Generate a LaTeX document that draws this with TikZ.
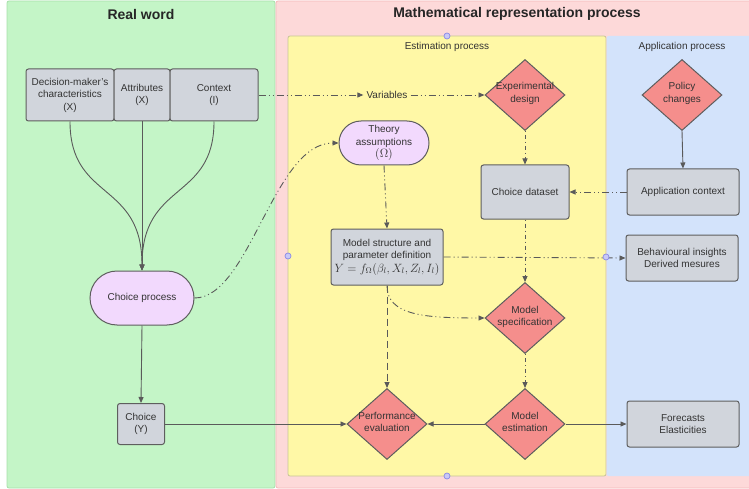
\documentclass[tikz,border=0pt]{standalone}
\usepackage{fontspec}
\setmainfont{Liberation Sans}
\usepackage{amsmath}
\usetikzlibrary{calc}
\usetikzlibrary{positioning}
\usetikzlibrary{shapes.geometric}
\usetikzlibrary{arrows.meta}
\definecolor{worldgreen}{HTML}{C4F5C7}
\definecolor{worldedge}{HTML}{A6DFA9}
\definecolor{mathpink}{HTML}{FDD9D9}
\definecolor{mathedge}{HTML}{F4B9B9}
\definecolor{estyellow}{HTML}{FFF8A6}
\definecolor{estedge}{HTML}{C8C39A}
\definecolor{appblue}{HTML}{D3E3FB}
\definecolor{boxgrey}{HTML}{D1D5DC}
\definecolor{boxline}{HTML}{5E5E5E}
\definecolor{decred}{HTML}{F58E8C}
\definecolor{lilac}{HTML}{F2D9FD}
\definecolor{linegrey}{HTML}{5A5A5A}
\definecolor{txt}{HTML}{333333}
\definecolor{handlefill}{HTML}{C9C9F7}
\definecolor{handleline}{HTML}{8A8AE6}
\tikzstyle{panel} = [rounded corners=2pt, line width=0.8pt]
\tikzstyle{greybox} = [draw=boxline, fill=boxgrey, rectangle, rounded corners=2.5pt, line width=1pt, align=center, text=txt, font=\fontsize{10}{12.5}\selectfont]
\tikzstyle{roundbox} = [draw=boxline, fill=lilac, rectangle, line width=1pt, align=center, text=txt, font=\fontsize{10}{12.5}\selectfont]
\tikzstyle{decnode} = [draw=boxline, fill=decred, diamond, line width=1pt, minimum width=80pt, minimum height=71pt, inner sep=0pt, text=txt, font=\fontsize{10}{12.5}\selectfont]
\tikzstyle{handle} = [draw=handleline, fill=handlefill, circle, inner sep=0pt, minimum size=6pt, line width=0.7pt]
\tikzstyle{flow} = [draw=linegrey, line width=0.9pt, -{Triangle[length=6pt,width=5pt]}]
\tikzstyle{dashdotline} = [dash pattern=on 7pt off 3pt on 1pt off 3pt on 1pt off 3pt]
\tikzstyle{dotline} = [dash pattern=on 1pt off 3pt on 4pt off 3pt]
\tikzstyle{dashline} = [dash pattern=on 7pt off 4pt]
\newcommand{\dtext}[1]{\raisebox{-2.5pt}{\smash{\makebox[0pt]{\begin{tabular}{@{}c@{}}#1\end{tabular}}}}}

\begin{document}
\begin{tikzpicture}[x=1pt, y=-1pt]
\useasboundingbox (0,0) rectangle (749,489);
\fill[panel, fill=worldgreen, draw=worldedge] (7,1) rectangle (275,488);
\fill[panel, fill=mathpink, draw=mathedge] (276,1) rectangle (760,488);
\filldraw[panel, fill=estyellow, draw=estedge] (288,36) rectangle (606,476);
\fill[panel, fill=appblue] (606.5,36) rectangle (760,476);
\node[font=\bfseries\fontsize{14}{16}\selectfont, text=black!85] (worldtitle) at (141,14) {Real word};
\node[font=\bfseries\fontsize{14}{16}\selectfont, text=black!85] (mathtitle) at (517,14) {Mathematical representation process};
\node[font=\fontsize{10}{12}\selectfont, text=txt] (esttitle) at (447,47) {Estimation process};
\node[font=\fontsize{10}{12}\selectfont, text=txt] (apptitle) at (682,47) {Application process};

\node[greybox, minimum width=88pt, minimum height=52pt] (dm) at (70,95) {Decision-maker's\\characteristics\\(X)};
\node[greybox, minimum width=56pt, minimum height=52pt, inner xsep=1pt] (attr) at ($(dm)+(72,0)$) {Attributes\\(X)};
\node[greybox, minimum width=88pt, minimum height=52pt] (ctx) at ($(attr)+(72,0)$) {Context\\(I)};
\node[roundbox, minimum width=104pt, minimum height=54pt, rounded corners=27pt] (cp) at (142,298) {Choice process};
\node[greybox, minimum width=47pt, minimum height=41pt, inner sep=1pt] (choice) at (141,424) {Choice\\(Y)};

\node[roundbox, minimum width=90pt, minimum height=44pt, rounded corners=22pt, inner sep=1pt] (ta) at (384,143) {Theory\\assumptions\\{\fontsize{12}{12}\selectfont$(\Omega)$}};
\node[font=\fontsize{10}{12}\selectfont, text=txt, inner sep=3pt] (var) at (387,95) {Variables};
\node[decnode] (ed) at (525,95) {\dtext{Experimental\\design}};
\node[decnode] (pc) at (682,95) {\dtext{Policy\\changes}};
\node[greybox, minimum width=88pt, minimum height=54pt] (cd) at (525,192) {Choice dataset};
\node[greybox, minimum width=112pt, minimum height=46pt] (ac) at (683,192) {Application context};
\node[greybox, minimum width=112pt, minimum height=56pt, inner sep=1pt] (ms) at (387,257) {Model structure and\\parameter definition\\[1pt]{\fontsize{11.5}{12}\selectfont$Y = f_{\Omega}(\beta_l, X_l, Z_l, I_l)$}};
\node[greybox, minimum width=112pt, minimum height=46pt] (bi) at (682,258) {Behavioural insights\\Derived mesures};
\node[decnode] (spec) at (525,318) {\dtext{Model\\specification}};
\node[decnode] (pe) at (387,424) {\dtext{Performance\\evaluation}};
\node[decnode] (me) at (525,424) {\dtext{Model\\estimation}};
\node[greybox, minimum width=112pt, minimum height=46pt] (fe) at (683,424) {Forecasts\\Elasticities};

\draw[flow] (dm.south) .. controls +(0,80) and +(0,-90) .. (cp.north);
\draw[flow] (attr.south) -- (cp.north);
\draw[flow] (ctx.south) .. controls +(0,80) and +(0,-90) .. (cp.north);
\draw[flow] (cp.south) -- (choice.north);
\draw[flow] (choice.east) -- (pe.west);
\draw[flow, dashdotline] (ctx.east) -- (var.west);
\draw[flow, dashdotline] (var.east) -- (ed.west);
\draw[flow, dashdotline] (cp.east) .. controls +(55,0) and +(-65,0) .. (ta.west);
\draw[flow, dotline] (ed.south) -- (cd.north);
\draw[flow] (pc.south) -- (ac.north);
\draw[flow, dashdotline] (ac.west) -- (cd.east);
\draw[flow, dashdotline] (ta.south) -- (ms.north);
\draw[flow, dotline] (cd.south) -- (spec.north);
\draw[flow, dashdotline] (ms.east) -- (bi.west);
\draw[flow, dashdotline] (ms.south) .. controls +(0,30) and +(-60,0) .. (spec.west);
\draw[flow, dashline] (ms.south) -- (pe.north);
\draw[flow, dotline] (spec.south) -- (me.north);
\draw[flow] (me.west) -- (pe.east);
\draw[flow] (me.east) -- (fe.west);

\node[handle] (h1) at (447,36) {};
\node[handle] (h2) at (288,256) {};
\node[handle] (h3) at (606,257) {};
\node[handle] (h4) at (447,476) {};
\end{tikzpicture}
\end{document}
